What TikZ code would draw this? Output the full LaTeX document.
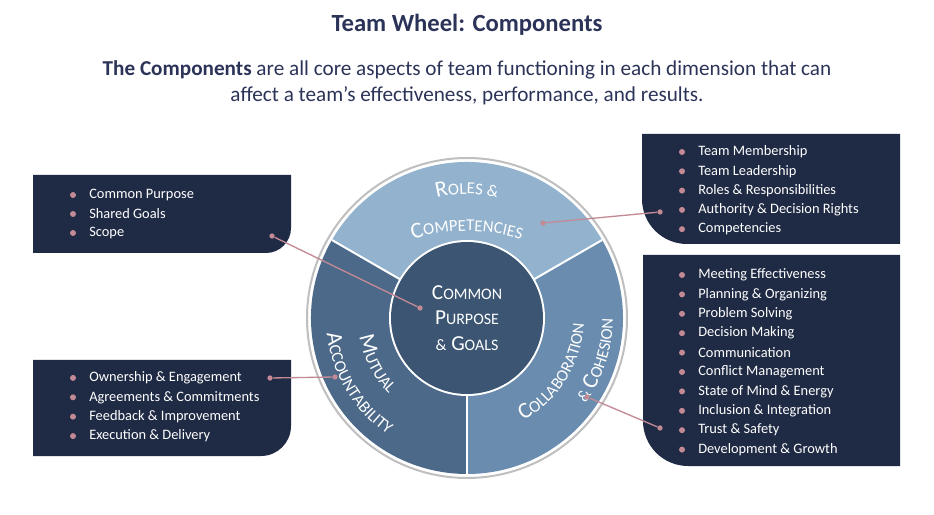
\documentclass[tikz,border=0pt]{standalone}
\usepackage{fontspec}
\setmainfont{Carlito}
\usetikzlibrary{decorations.text,calc}
\definecolor{navy}{HTML}{1F2A44}
\definecolor{ttl}{HTML}{2C3358}
\definecolor{pinkc}{HTML}{C38A96}
\definecolor{topc}{HTML}{92B2CE}
\definecolor{rightc}{HTML}{6A8CAF}
\definecolor{leftc}{HTML}{4C6989}
\definecolor{midc}{HTML}{3B5572}
\newcommand\wbig{\fontsize{17}{17}\selectfont\color{white}}
\newcommand\wsm{\fontsize{12.5}{12.5}\selectfont\color{white}}
\newcommand\cbig{\fontsize{16}{16}\selectfont}
\newcommand\csm{\fontsize{12}{12}\selectfont}
\begin{document}
\begin{tikzpicture}[x=0.75pt,y=0.75pt,
  box/.style={fill=navy},
  item/.style={anchor=west,inner sep=0pt,font=\fontsize{10.8}{12}\selectfont,text=white},
  bul/.style={circle,fill=pinkc,inner sep=0pt,minimum size=4.5pt},
  conn/.style={draw=pinkc,line width=1pt},
  dot/.style={circle,fill=pinkc,inner sep=0pt,minimum size=4pt},
  arctext/.style={decorate,decoration={text along path,text align=center,text={#1}}}]
\useasboundingbox (0,0) rectangle (934,514);
% title
\node[font=\fontsize{18.5}{21}\selectfont\bfseries,text=ttl] (title) at (467,489) {Team Wheel: Components};
\node[font=\fontsize{15.9}{19.5}\selectfont,text=ttl,align=center] (sub) at (467,431)
  {\textbf{The Components} are all core aspects of team functioning in each dimension that can\\ affect a team’s effectiveness, performance, and results.};
% boxes
\fill[box] (33,339) -- (291,339) -- (291,286) arc[start angle=0,end angle=-90,radius=25] -- (33,261) -- cycle;
\fill[box] (33,154) -- (291,154) -- (291,88) arc[start angle=0,end angle=-90,radius=30] -- (33,58) -- cycle;
\fill[box] (642,380) -- (900,380) -- (900,270) -- (687,270) arc[start angle=270,end angle=180,radius=45] -- cycle;
\fill[box] (643,259) -- (900,259) -- (900,48) -- (688,48) arc[start angle=270,end angle=180,radius=45] -- cycle;
% items
\foreach \t [count=\i] in {Common Purpose,Shared Goals,Scope}{
  \node[bul] (tlb\i) at (73,338-19*\i) {};
  \node[item] (tl\i) at (89,338-19*\i) {\t};}
\foreach \t [count=\i] in {Ownership \& Engagement,Agreements \& Commitments,Feedback \& Improvement,Execution \& Delivery}{
  \node[bul] (blb\i) at (73,155.5-19.4*\i) {};
  \node[item] (bl\i) at (89,155.5-19.4*\i) {\t};}
\foreach \t [count=\i] in {Team Membership,Team Leadership,Roles \& Responsibilities,Authority \& Decision Rights,Competencies}{
  \node[bul] (trb\i) at (682,381.3-19.3*\i) {};
  \node[item] (tr\i) at (698,381.3-19.3*\i) {\t};}
\foreach \t [count=\i] in {Meeting Effectiveness,Planning \& Organizing,Problem Solving,Decision Making,Communication,Conflict Management,State of Mind \& Energy,Inclusion \& Integration,Trust \& Safety,Development \& Growth}{
  \node[bul] (brb\i) at (682,258.4-19.4*\i) {};
  \node[item] (br\i) at (698,258.4-19.4*\i) {\t};}
% wheel
\coordinate (C) at (467,196);
\draw[fill=white,draw=black!25,line width=1.5] (C) circle[radius=160];
\fill[topc] (C) -- ++(30:156) arc[start angle=30,end angle=150,radius=156] -- cycle;
\fill[rightc] (C) -- ++(-90:156) arc[start angle=-90,end angle=30,radius=156] -- cycle;
\fill[leftc] (C) -- ++(150:156) arc[start angle=150,end angle=270,radius=156] -- cycle;
\foreach \a in {30,150,270} \draw[white,line width=1.5] (C) -- ++(\a:156);
\fill[white] (C) circle[radius=78];
\fill[midc] (C) circle[radius=76];
\node[text=white,align=center,font=\cbig,inner sep=0pt] (center) at (C)
 {C{\csm OMMON}\\[3pt] P{\csm URPOSE}\\[3pt] {\csm\&} G{\csm OALS}};
% curved labels
\path[arctext={|\wbig|R|\wsm|OLES {\&}}] ($(C)+(112:124)$) arc[start angle=112,end angle=68,radius=124];
\path[arctext={|\wbig|C|\wsm|OMPETENCIES}] (467,102)++(114:181) arc[start angle=114,end angle=66,radius=181];
\path[arctext={|\wbig|M|\wsm|UTUAL}] ($(C)+(174:109)$) arc[start angle=174,end angle=240,radius=109];
\path[arctext={|\wbig|A|\wsm|CCOUNTABILITY}] ($(C)+(166:141)$) arc[start angle=166,end angle=256,radius=141];
\path[arctext={|\wbig|C|\wsm|OLLABORATION}] ($(C)+(-82:117)$) arc[start angle=-82,end angle=18,radius=117];
\path[arctext={|\wsm|{\&} |\wbig|C|\wsm|OHESION}] ($(C)+(-62:146)$) arc[start angle=-62,end angle=26,radius=146];
% connectors
\node[dot] (d1a) at (272,278) {}; \node[dot] (d1b) at (420,206) {};
\node[dot] (d2a) at (270,136) {}; \node[dot] (d2b) at (335,137) {};
\node[dot] (d3a) at (543,291) {}; \node[dot] (d3b) at (660,302) {};
\node[dot] (d4a) at (587,117) {}; \node[dot] (d4b) at (660,86) {};
\draw[conn] (d1a) -- (d1b);
\draw[conn] (d2a) -- (d2b);
\draw[conn] (d3a) -- (d3b);
\draw[conn] (d4a) -- (d4b);
\end{tikzpicture}
\end{document}
